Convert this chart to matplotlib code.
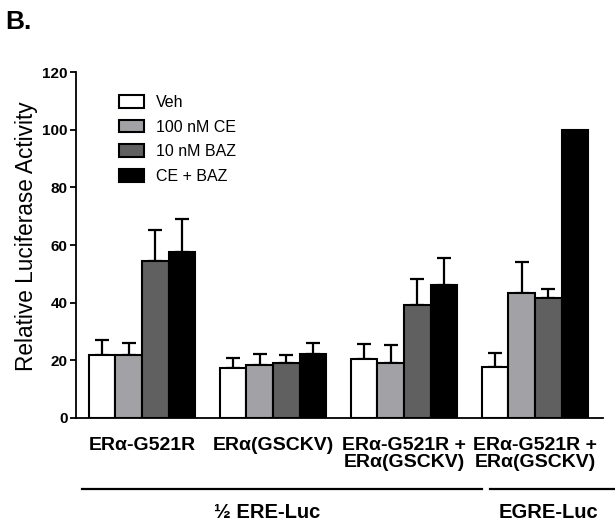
import matplotlib
matplotlib.use("Agg")
import matplotlib.pyplot as plt
import numpy as np

plt.rcParams['font.family'] = ['Liberation Sans', 'DejaVu Sans']

categories = ["ERα-G521R", "ERα(GSCKV)", "ERα-G521R +\nERα(GSCKV)", "ERα-G521R +\nERα(GSCKV)"]
series_names = ["Veh", "100 nM CE", "10 nM BAZ", "CE + BAZ"]
veh = [22.0, 17.2, 20.3, 17.8]
ce = [22.0, 18.5, 19.2, 43.3]
baz = [54.3, 19.0, 39.3, 41.5]
cebaz = [57.7, 22.3, 46.1, 100.0]
veh_err = [5.1, 3.6, 5.4, 4.9]
ce_err = [4.0, 3.8, 6.2, 10.8]
baz_err = [10.9, 2.8, 8.9, 3.2]
cebaz_err = [11.2, 3.7, 9.5, 0.0]
colors = ["#ffffff", "#a2a2a6", "#606060", "#000000"]
group_labels = ["½ ERE-Luc", "EGRE-Luc"]

fig = plt.figure(figsize=(6.15, 5.21), dpi=100)
ax = fig.add_axes([0.1236, 0.1977, 0.857, 0.664])

x = np.arange(len(categories))
w = 0.204
vals = [veh, ce, baz, cebaz]
errs = [veh_err, ce_err, baz_err, cebaz_err]
for k in range(4):
    pos = x + (k - 1.5) * w
    ax.bar(pos, vals[k], width=w, color=colors[k], edgecolor="black",
           linewidth=1.5, label=series_names[k], zorder=2)
    e = np.array(errs[k])
    mask = e > 0
    ax.errorbar(pos[mask], np.array(vals[k])[mask],
                yerr=[np.zeros(mask.sum()), e[mask]], fmt='none',
                ecolor="black", elinewidth=1.6, capsize=5, capthick=1.6, zorder=1)

ax.set_ylim(0, 120)
ax.set_xlim(-0.504, 3.52)
ax.set_yticks([0, 20, 40, 60, 80, 100, 120])
for s in ["top", "right"]:
    ax.spines[s].set_visible(False)
ax.spines["left"].set_linewidth(1.3)
ax.spines["bottom"].set_linewidth(1.3)
ax.tick_params(axis="y", length=4, width=1.3, labelsize=11, pad=2)
for t in ax.get_yticklabels():
    t.set_fontweight("bold")
ax.set_xticks(x)
ax.set_xticklabels(categories, fontsize=14, fontweight="bold", linespacing=1.0)
ax.tick_params(axis="x", length=0, pad=14)
ax.set_ylabel("Relative Luciferase Activity", fontsize=16.3)
ax.yaxis.set_label_coords(-0.072, 0.525)

leg = ax.legend(loc="upper left", bbox_to_anchor=(0.069, 0.952), frameon=False,
                fontsize=11.5, handlelength=1.55, handleheight=0.83,
                labelspacing=0.6, handletextpad=0.78, borderaxespad=0)

# group underlines and labels (figure coordinates)
yl = 1 - 489/521
fig.add_artist(plt.Line2D([82/615, 482/615], [yl, yl], color="black", lw=1.6))
fig.add_artist(plt.Line2D([490/615, 615/615], [yl, yl], color="black", lw=1.6))
fig.text(267/615, 1-512/521, group_labels[0], ha="center", va="center", fontsize=14.5, fontweight="bold")
fig.text(548/615, 1-512/521, group_labels[1], ha="center", va="center", fontsize=14.5, fontweight="bold")

fig.text(5/615, 1-22/521, "B.", ha="left", va="center", fontsize=19, fontweight="bold")

fig.savefig("out.png", dpi=100)
